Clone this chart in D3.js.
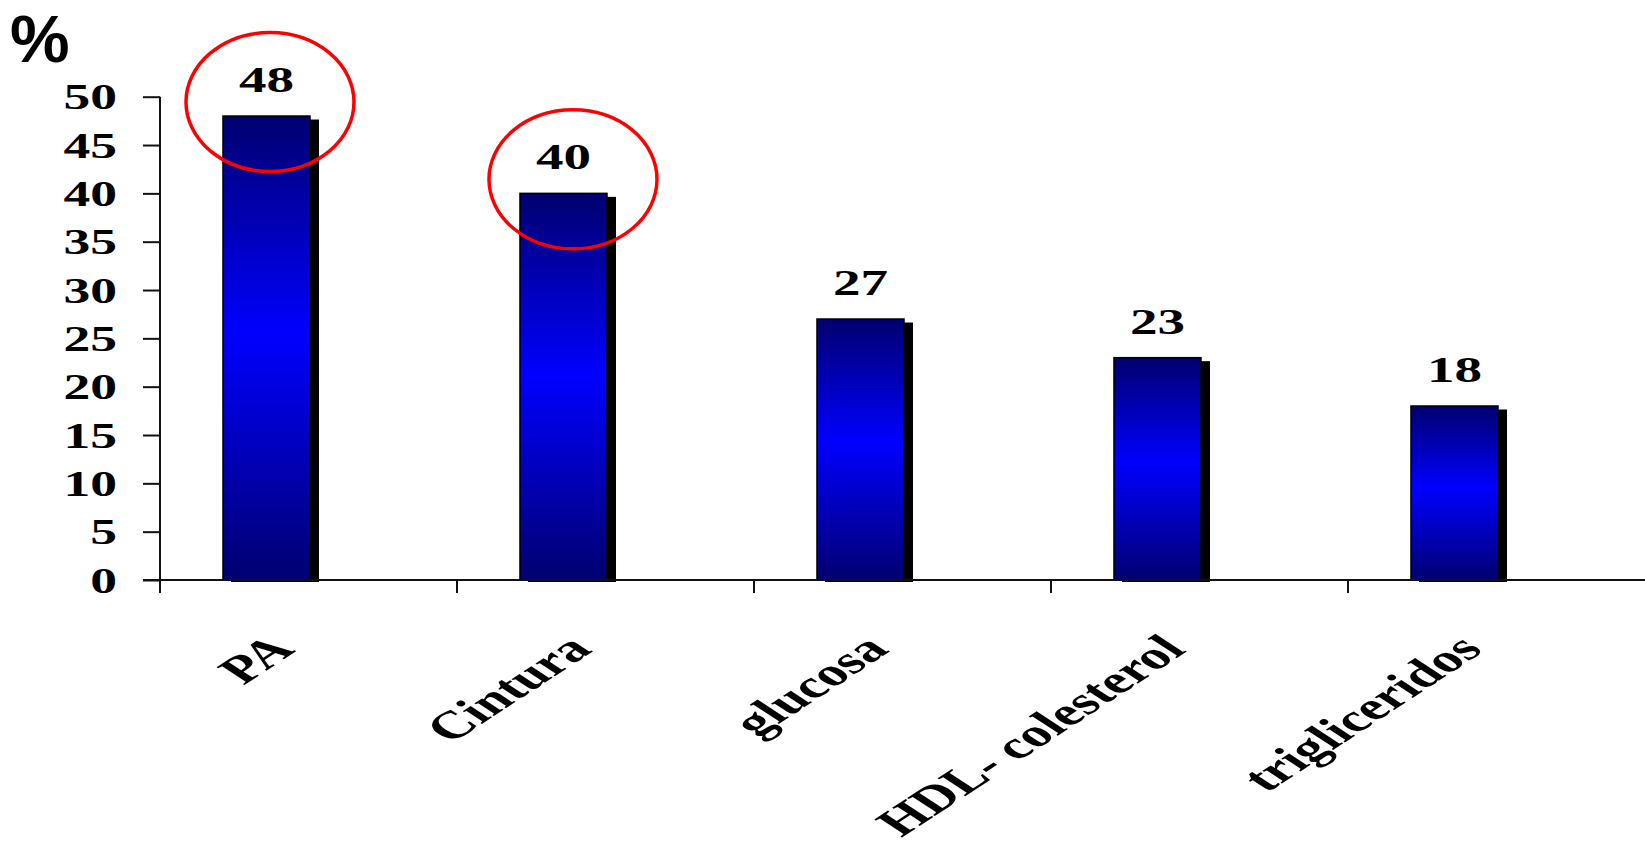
<!DOCTYPE html>
<html>
<head>
<meta charset="utf-8">
<script src="https://cdn.jsdelivr.net/npm/d3@7"></script>
<style>
  html, body { margin: 0; padding: 0; background: #fff; }
  svg { display: block; }
</style>
</head>
<body>
<svg id="chart" width="1645" height="850"></svg>
<script>
// Prevalence of each metabolic-syndrome component (%)
const categories = ["PA", "Cintura", "glucosa", "HDL- colesterol", "trigliceridos"];
const values = [48, 40, 27, 23, 18];
const yTickValues = [0, 5, 10, 15, 20, 25, 30, 35, 40, 45, 50];
const highlighted = ["PA", "Cintura"];
const unitLabel = "%";

const svg = d3.select("#chart");

// Plot area
const plotLeft = 160, plotRight = 1645, plotTop = 96.7, plotBottom = 580;
const sx = 1.53;             // horizontal stretch applied to text glyphs
const serif = "'Liberation Serif', 'Times New Roman', serif";

const x = d3.scaleBand().domain(categories).range([plotLeft, plotRight]).paddingInner(0).paddingOuter(0);
const y = d3.scaleLinear().domain([0, 50]).range([plotBottom, plotTop]);

const barW = x.bandwidth() * 0.293;
const barX = c => x(c) + x.bandwidth() / 2 - barW + 1.5;

// Vertical navy -> blue -> navy gradient
const defs = svg.append("defs");
const grad = defs.append("linearGradient")
  .attr("id", "barGrad").attr("x1", 0).attr("y1", 0).attr("x2", 0).attr("y2", 1);
grad.append("stop").attr("offset", "0%").attr("stop-color", "#000070");
grad.append("stop").attr("offset", "47%").attr("stop-color", "#0000ff");
grad.append("stop").attr("offset", "100%").attr("stop-color", "#000070");

const data = categories.map((c, i) => ({ c, v: values[i] }));

// Drop shadows
svg.append("g").selectAll("rect").data(data).join("rect")
  .attr("x", d => barX(d.c) + 8)
  .attr("y", d => y(d.v) + 3.5)
  .attr("width", barW + 1)
  .attr("height", d => plotBottom + 2 - (y(d.v) + 3.5))
  .attr("fill", "#000");

// Bars
svg.append("g").selectAll("rect").data(data).join("rect")
  .attr("x", d => barX(d.c))
  .attr("y", d => y(d.v))
  .attr("width", barW)
  .attr("height", d => plotBottom - y(d.v))
  .attr("fill", "url(#barGrad)")
  .attr("stroke", "#000")
  .attr("stroke-width", 1.5);

// Y axis
const yAxis = d3.axisLeft(y).tickValues(yTickValues).tickSize(17).tickSizeOuter(0).tickPadding(26);
const gy = svg.append("g").attr("transform", `translate(${plotLeft},0)`).call(yAxis);
gy.select(".domain").remove();
gy.selectAll(".tick line").attr("stroke", "#111").attr("stroke-width", 2);
gy.selectAll(".tick text").each(function () {
  const t = d3.select(this);
  const xPos = +t.attr("x");
  t.attr("x", null).attr("dy", "0.35em")
    .attr("transform", `translate(${xPos},0) scale(${sx},1)`)
    .attr("font-family", serif).attr("font-weight", "bold").attr("font-size", 35)
    .attr("fill", "#000");
});
svg.append("line")
  .attr("x1", plotLeft).attr("x2", plotLeft).attr("y1", plotTop).attr("y2", plotBottom + 13)
  .attr("stroke", "#111").attr("stroke-width", 2);

// X axis baseline and category separators
svg.append("line")
  .attr("x1", plotLeft - 17).attr("x2", plotRight).attr("y1", plotBottom).attr("y2", plotBottom)
  .attr("stroke", "#111").attr("stroke-width", 2);
svg.append("g").selectAll("line").data(categories.slice(1)).join("line")
  .attr("x1", c => x(c)).attr("x2", c => x(c))
  .attr("y1", plotBottom).attr("y2", plotBottom + 13)
  .attr("stroke", "#111").attr("stroke-width", 2);

// Category labels, rotated
svg.append("g").selectAll("text").data(categories).join("text")
  .attr("transform", c => `translate(${x(c) + x.bandwidth() / 2 - 12},${plotBottom + 71}) scale(${sx},1) rotate(-45)`)
  .attr("text-anchor", "end")
  .attr("font-family", serif).attr("font-weight", "bold").attr("font-size", 39)
  .attr("fill", "#000")
  .text(c => c);

// Value labels
svg.append("g").selectAll("text").data(data).join("text")
  .attr("transform", d => `translate(${barX(d.c) + barW / 2},${y(d.v) - 24}) scale(${sx},1)`)
  .attr("text-anchor", "middle")
  .attr("font-family", serif).attr("font-weight", "bold").attr("font-size", 36)
  .attr("fill", "#000")
  .text(d => d.v);

// Red highlight ellipses around the two leading components
const ringShift = [3.5, 9.5];
svg.append("g").selectAll("ellipse").data(data.filter(d => highlighted.includes(d.c))).join("ellipse")
  .attr("cx", (d, i) => barX(d.c) + barW / 2 + ringShift[i])
  .attr("cy", d => y(d.v) - 14)
  .attr("rx", 84).attr("ry", 69.5)
  .attr("fill", "none").attr("stroke", "#ff0000").attr("stroke-width", 3.5);

// Unit label
svg.append("text")
  .attr("x", 10).attr("y", 62)
  .attr("font-family", "'Liberation Sans', Arial, sans-serif").attr("font-weight", "bold")
  .attr("font-size", 67).attr("fill", "#000")
  .text(unitLabel);
</script>
</body>
</html>
